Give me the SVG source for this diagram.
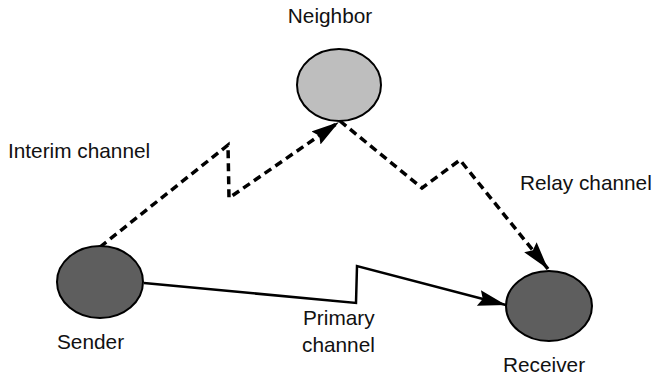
<svg xmlns="http://www.w3.org/2000/svg" width="655" height="379" viewBox="0 0 655 379">
<style>
text{font-family:"Liberation Sans",Arial,sans-serif;font-size:20.8px;fill:#111}
.node{stroke:#000;stroke-width:2}
.dash{fill:none;stroke:#000;stroke-width:3.5;stroke-dasharray:8,5}
.solid{fill:none;stroke:#000;stroke-width:2.5}
</style>
<defs>
<marker id="ah" markerUnits="userSpaceOnUse" markerWidth="32" markerHeight="20" refX="28" refY="8" orient="auto">
<path d="M0,0 L28,8 L0,16 L4,8 z" fill="#000"/>
</marker>
</defs>
<rect width="655" height="379" fill="#fff"/>
<g id="connectors">
<path class="dash" d="M100,247 L228,145 L229,198 L339,122" marker-end="url(#ah)"/>
<path class="dash" d="M340,121 L422,188 L460,160 L548,269" marker-end="url(#ah)"/>
<path class="solid" d="M144,283 L356,303 L357,266 L506,305" marker-end="url(#ah)"/>
</g>
<g id="neighbor">
<ellipse class="node" cx="339" cy="85" rx="42" ry="36" fill="#bebebe"/>
<text x="330" y="23" text-anchor="middle">Neighbor</text>
</g>
<g id="sender">
<ellipse class="node" cx="100" cy="282" rx="43" ry="36" fill="#5e5e5e"/>
<text x="57" y="349">Sender</text>
</g>
<g id="receiver">
<ellipse class="node" cx="549" cy="306" rx="43" ry="35" fill="#5e5e5e"/>
<text x="503" y="372">Receiver</text>
</g>
<g id="labels">
<text x="8" y="158">Interim channel</text>
<text x="520" y="190">Relay channel</text>
<text x="303" y="325">Primary</text>
<text x="302" y="352">channel</text>
</g>
</svg>
